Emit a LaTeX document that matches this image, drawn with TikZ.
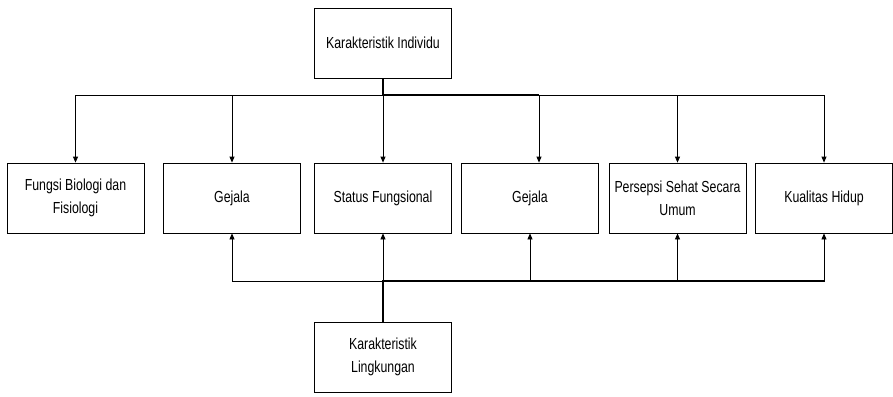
\documentclass[tikz,border=0pt]{standalone}
\usepackage{fontspec}
\setmainfont{Liberation Sans}[FakeStretch=0.77]
\usetikzlibrary{arrows.meta}
\tikzset{
    box/.style={draw, line width=0.8pt, minimum width=137pt, minimum height=70pt, align=center, font=\fontsize{16}{23}\selectfont},
    arr/.style={line width=0.8pt, -{Triangle[length=6pt, width=5pt]}},
    bus/.style={line width=2pt}
}
\begin{document}
\begin{tikzpicture}[x=1pt, y=-1pt]
    \useasboundingbox (0,0) rectangle (893,396);
    \node [box] (indiv) at (383, 43) {Karakteristik Individu};
    \node [box] (fungsi) at (75.5, 198) {Fungsi Biologi dan\\Fisiologi};
    \node [box] (gejalaa) at (232, 198) {Gejala};
    \node [box] (status) at (383, 198) {Status Fungsional};
    \node [box] (gejalab) at (530, 198) {Gejala};
    \node [box] (persepsi) at (677.5, 198) {Persepsi Sehat Secara\\Umum};
    \node [box] (kualitas) at (824, 198) {Kualitas Hidup};
    \node [box] (lingk) at (383, 357) {Karakteristik\\Lingkungan};
    \coordinate (topbus) at (383, 95);
    \coordinate (botbus) at (383, 281);
    \coordinate (gejalatop) at ([xshift=9pt]gejalab.north);
    % from the top
    \draw [bus] (indiv.south) -- (topbus) -- (topbus -| gejalatop);
    \foreach \b in {fungsi, gejalaa, status, persepsi, kualitas}
        \draw [arr] (topbus) -| (\b.north);
    \draw [arr] (topbus) -| (gejalatop);
    % from the bottom
    \draw [bus] (lingk.north) -- (botbus) -- (botbus -| kualitas.south);
    \foreach \b in {gejalaa, status, gejalab, persepsi, kualitas}
        \draw [arr] (botbus) -| (\b.south);
\end{tikzpicture}
\end{document}
